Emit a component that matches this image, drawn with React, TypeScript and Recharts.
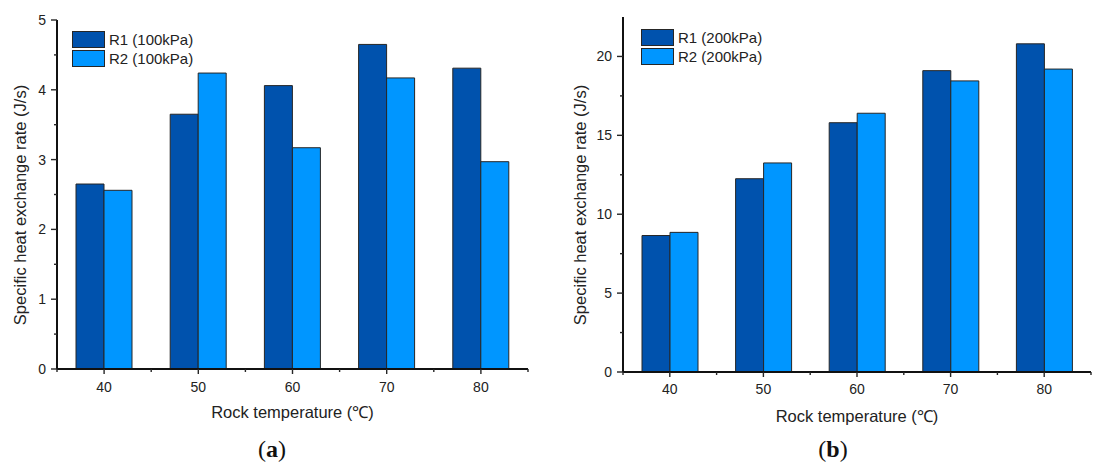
import React from 'react';
import { BarChart, Bar, XAxis, YAxis, Legend, Label } from 'recharts';

const temperatures = ['40', '50', '60', '70', '80'];
const r1At100 = [2.65, 3.65, 4.06, 4.65, 4.31];
const r2At100 = [2.56, 4.24, 3.17, 4.17, 2.97];
const r1At200 = [8.65, 12.25, 15.8, 19.1, 20.8];
const r2At200 = [8.85, 13.25, 16.4, 18.45, 19.2];
const ticksAt100 = [0, 0.5, 1, 1.5, 2, 2.5, 3, 3.5, 4, 4.5, 5];
const ticksAt200 = [0, 2.5, 5, 7.5, 10, 12.5, 15, 17.5, 20];

const PAGE_W = 1093;
const PAGE_H = 463;
const DARK = '#0052ad';
const LIGHT = '#0096ff';
const EDGE = '#262626';
const INK = '#222';
const FONT = 'Arial, "Liberation Sans", sans-serif';

interface PanelProps {
  left: number;
  width: number;
  top: number;
  yAxisWidth: number;
  rightGap: number;
  plotBottom: number;
  r1: number[];
  r2: number[];
  r1Name: string;
  r2Name: string;
  yMax: number;
  yTicks: number[];
  majorEvery: number;
  legendLeft: number;
  legendTop: number;
  yTitleX: number;
  xTitleOffset: number;
  tickLabelDy: number;
}

function Panel(p: PanelProps) {
  const data = temperatures.map((t, i) => ({ temp: t, r1: p.r1[i], r2: p.r2[i] }));
  const plotWidth = p.width - p.yAxisWidth - p.rightGap;
  const band = plotWidth / temperatures.length;

  const renderXTick = (props: any) => {
    const { x, y, payload, index } = props;
    const last = index === temperatures.length - 1;
    return (
      <g>
        <line x1={x} x2={x} y1={y} y2={y + 5} stroke={EDGE} strokeWidth={1.4} />
        <line x1={x - band / 2} x2={x - band / 2} y1={y} y2={y + 3} stroke={EDGE} strokeWidth={1.4} />
        {last && <line x1={x + band / 2} x2={x + band / 2} y1={y} y2={y + 3} stroke={EDGE} strokeWidth={1.4} />}
        <text x={x} y={y + p.tickLabelDy} textAnchor="middle" fontSize={14} fill={INK} fontFamily={FONT}>
          {payload.value}
        </text>
      </g>
    );
  };

  const renderYTick = (props: any) => {
    const { x, y, payload } = props;
    const major = payload.value % p.majorEvery === 0;
    return (
      <g>
        <line x1={x - (major ? 6 : 3)} x2={x} y1={y} y2={y} stroke={EDGE} strokeWidth={1.4} />
        {major && (
          <text x={x - 11} y={y + 5} textAnchor="end" fontSize={14} fill={INK} fontFamily={FONT}>
            {payload.value}
          </text>
        )}
      </g>
    );
  };

  const renderLegend = (props: any) => (
    <div style={{ fontFamily: FONT }}>
      {props.payload.map((entry: any) => (
        <div key={entry.value} style={{ display: 'flex', alignItems: 'center', height: 19 }}>
          <span
            style={{
              display: 'inline-block',
              width: 31,
              height: 15,
              background: entry.dataKey === 'r1' ? DARK : LIGHT,
              border: `1px solid ${EDGE}`,
              marginRight: 4,
            }}
          />
          <span style={{ fontSize: 15, color: INK, lineHeight: '17px' }}>{entry.value}</span>
        </div>
      ))}
    </div>
  );

  const yCenter = 205 - p.top;

  return (
    <div style={{ position: 'absolute', left: p.left, top: 0 }}>
      <BarChart
        width={p.width}
        height={PAGE_H}
        data={data}
        margin={{ top: p.top, right: p.rightGap, bottom: 0, left: 0 }}
        barGap={0}
      >
        <XAxis
          dataKey="temp"
          type="category"
          height={PAGE_H - p.plotBottom}
          axisLine={{ stroke: '#111', strokeWidth: 2 }}
          tickLine={false}
          tickSize={0}
          tickMargin={0}
          interval={0}
          tick={renderXTick}
        >
          <Label
            value="Rock temperature (℃)"
            position="insideBottom"
            offset={p.xTitleOffset}
            fontSize={16.5}
            fill={INK}
            fontFamily={FONT}
          />
        </XAxis>
        <YAxis
          type="number"
          width={p.yAxisWidth}
          domain={[0, p.yMax]}
          ticks={p.yTicks}
          interval={0}
          axisLine={{ stroke: '#111', strokeWidth: 2 }}
          tickLine={false}
          tickSize={0}
          tickMargin={0}
          tick={renderYTick}
        >
          <Label
            content={() => (
              <text
                transform={`translate(${p.yTitleX},${yCenter + p.top}) rotate(-90)`}
                textAnchor="middle"
                dominantBaseline="central"
                fontSize={16.5}
                fill={INK}
                fontFamily={FONT}
              >
                Specific heat exchange rate (J/s)
              </text>
            )}
          />
        </YAxis>
        <Legend
          layout="vertical"
          align="center"
          verticalAlign="middle"
          content={renderLegend}
          wrapperStyle={{ left: p.legendLeft, top: p.legendTop, width: 'auto' }}
        />
        <Bar dataKey="r1" name={p.r1Name} fill={DARK} stroke={EDGE} strokeWidth={1} barSize={28} isAnimationActive={false} />
        <Bar dataKey="r2" name={p.r2Name} fill={LIGHT} stroke={EDGE} strokeWidth={1} barSize={28} isAnimationActive={false} />
      </BarChart>
    </div>
  );
}

const captionStyle: React.CSSProperties = {
  position: 'absolute',
  top: 436,
  width: 60,
  textAlign: 'center',
  fontFamily: '"Liberation Serif", "Times New Roman", serif',
  fontSize: 24,
  lineHeight: '26px',
  color: '#111',
};

export default function App() {
  return (
    <div
      style={{
        position: 'absolute',
        left: 0,
        top: 0,
        width: PAGE_W,
        height: PAGE_H,
        background: '#fff',
        overflow: 'hidden',
      }}
    >
      <Panel
        left={0}
        width={540}
        top={20}
        yAxisWidth={57}
        rightGap={12}
        plotBottom={369}
        r1={r1At100}
        r2={r2At100}
        r1Name="R1 (100kPa)"
        r2Name="R2 (100kPa)"
        yMax={5}
        yTicks={ticksAt100}
        majorEvery={1}
        legendLeft={72}
        legendTop={30}
        yTitleX={20}
        xTitleOffset={45}
        tickLabelDy={23}
      />
      <Panel
        left={560}
        width={533}
        top={17}
        yAxisWidth={63}
        rightGap={2}
        plotBottom={372}
        r1={r1At200}
        r2={r2At200}
        r1Name="R1 (200kPa)"
        r2Name="R2 (200kPa)"
        yMax={22.5}
        yTicks={ticksAt200}
        majorEvery={5}
        legendLeft={81}
        legendTop={28}
        yTitleX={20}
        xTitleOffset={41}
        tickLabelDy={22}
      />
      <div style={{ ...captionStyle, left: 242 }}>
        (<b>a</b>)
      </div>
      <div style={{ ...captionStyle, left: 803 }}>
        (<b>b</b>)
      </div>
    </div>
  );
}
